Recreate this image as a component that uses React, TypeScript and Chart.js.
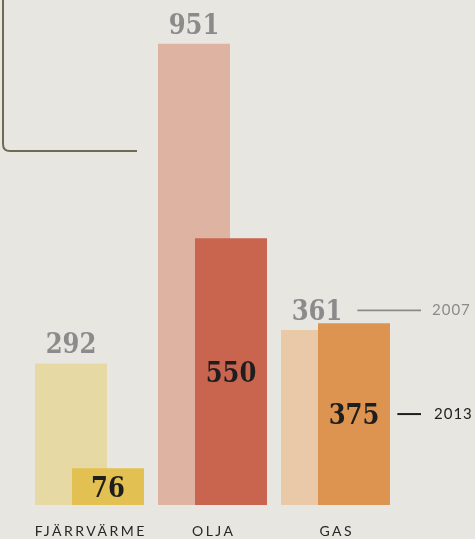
import React, { useEffect, useRef } from "react";
import { Chart, registerables } from "chart.js";

Chart.register(...registerables);

const categories = ["FJÄRRVÄRME", "OLJA", "GAS"];
const seriesLabels = ["2007", "2013"];
const values2007 = [292, 951, 361];
const values2013 = [76, 550, 375];
const colors2007 = ["#e6d9a3", "#deb3a2", "#e9c9a7"];
const colors2013 = ["#e2c052", "#c9644f", "#dc9450"];

const BG = "#e8e6e1";
const NUM_FONT = "bold 27px 'DejaVu Serif Condensed', 'DejaVu Serif', serif";

const decorPlugin = {
  id: "decor",
  beforeDraw(chart: any) {
    const ctx = chart.ctx;
    ctx.save();
    ctx.fillStyle = BG;
    ctx.fillRect(0, 0, chart.width, chart.height);
    ctx.strokeStyle = "#6e6b52";
    ctx.lineWidth = 2;
    ctx.beginPath();
    ctx.moveTo(3, 0);
    ctx.lineTo(3, 144);
    ctx.quadraticCurveTo(3, 151, 10, 151);
    ctx.lineTo(137, 151);
    ctx.stroke();
    ctx.restore();
  },
  beforeDatasetsDraw(chart: any) {
    // draw the 2007 bars first so the 2013 bars sit on top of them
    const ctx = chart.ctx;
    const m0 = chart.getDatasetMeta(0);
    ctx.save();
    m0.data.forEach((el: any) => el.draw(ctx));
    ctx.restore();
  },
  beforeDatasetDraw(chart: any, args: any) {
    if (args.index === 0) return false;
    return true;
  },
  afterDatasetsDraw(chart: any) {
    const ctx = chart.ctx;
    const area = chart.chartArea;
    const m0 = chart.getDatasetMeta(0);
    const m1 = chart.getDatasetMeta(1);
    const xScale = chart.scales.x;
    ctx.save();
    ctx.font = NUM_FONT;
    ctx.textAlign = "center";
    ctx.textBaseline = "alphabetic";
    const lastIdx = categories.length - 1;
    let legendY2007 = 0, legendX2007 = 0, legendY2013 = 0, legendX2013 = 0;
    m0.data.forEach((bar: any, i: number) => {
      ctx.fillStyle = "#8b8b8b";
      const txt = String(values2007[i]);
      ctx.fillText(txt, bar.x, bar.y - 10);
      if (i === lastIdx) {
        legendY2007 = bar.y - 19.5;
        legendX2007 = bar.x + ctx.measureText(txt).width / 2 + 15;
      }
    });
    m1.data.forEach((bar: any, i: number) => {
      ctx.fillStyle = "#1e1e1e";
      const txt = String(values2013[i]);
      const cy = (bar.y + bar.base) / 2;
      ctx.fillText(txt, bar.x, cy + 10);
      if (i === lastIdx) {
        legendY2013 = cy;
        legendX2013 = bar.x + ctx.measureText(txt).width / 2 + 18;
      }
    });
    const lineEnd = area.right + 24;
    ctx.lineWidth = 1.6;
    ctx.strokeStyle = "#8b8b8b";
    ctx.beginPath();
    ctx.moveTo(legendX2007, legendY2007);
    ctx.lineTo(lineEnd, legendY2007);
    ctx.stroke();
    ctx.lineWidth = 2;
    ctx.strokeStyle = "#1e1e1e";
    ctx.beginPath();
    ctx.moveTo(legendX2013, legendY2013);
    ctx.lineTo(lineEnd, legendY2013);
    ctx.stroke();
    ctx.font = "15px Lato, 'Noto Sans', sans-serif";
    ctx.textAlign = "left";
    (ctx as any).letterSpacing = "1px";
    ctx.fillStyle = "#8b8b8b";
    ctx.fillText(seriesLabels[0], area.right + 35, legendY2007 + 5);
    ctx.fillStyle = "#1e1e1e";
    ctx.fillText(seriesLabels[1], area.right + 37, legendY2013 + 5);
    ctx.font = "14px Lato, 'Noto Sans', sans-serif";
    ctx.textAlign = "center";
    const ls = 2.5;
    (ctx as any).letterSpacing = ls + "px";
    ctx.fillStyle = "#262626";
    categories.forEach((c, i) => {
      const x = xScale.getPixelForValue(i);
      ctx.fillText(c, x + ls / 2, area.bottom + 31);
    });
    ctx.restore();
  },
};

export default function App() {
  const ref = useRef<HTMLCanvasElement | null>(null);
  useEffect(() => {
    document.body.style.margin = "0";
    document.body.style.background = BG;
    const canvas = ref.current;
    if (!canvas) return;
    const chart = new Chart(canvas, {
      type: "bar",
      data: {
        labels: categories,
        datasets: [
          {
            label: seriesLabels[0],
            data: values2007,
            backgroundColor: colors2007,
            borderWidth: 0,
            categoryPercentage: 74 / 123,
            barPercentage: 72 / 37,
          },
          {
            label: seriesLabels[1],
            data: values2013,
            backgroundColor: colors2013,
            borderWidth: 0,
            categoryPercentage: 74 / 123,
            barPercentage: 72 / 37,
          },
        ],
      },
      options: {
        responsive: false,
        animation: false,
        layout: { padding: { left: 28, right: 78, top: 20, bottom: 34 } },
        plugins: {
          legend: { display: false },
          tooltip: { enabled: false },
        },
        scales: {
          x: { display: false },
          y: { display: false, min: 0, max: 1000 },
        },
      },
      plugins: [decorPlugin],
    });
    return () => chart.destroy();
  }, []);
  return <canvas ref={ref} width={475} height={539} style={{ display: "block" }} />;
}
